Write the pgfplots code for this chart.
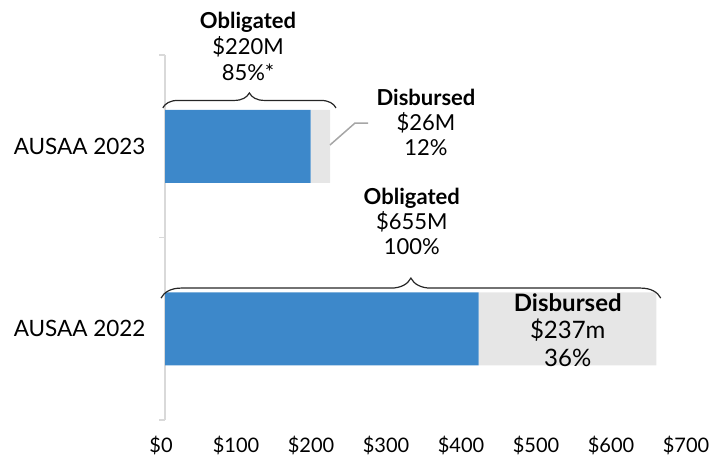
\documentclass[border=0pt]{standalone}
\usepackage{fontspec}
\setmainfont{Lato}
\usepackage{pgfplots}
\pgfplotsset{compat=1.18}
\usetikzlibrary{decorations.pathreplacing}
\definecolor{barblue}{HTML}{3D88CA}
\definecolor{bargrey}{HTML}{E6E6E6}
\definecolor{axgrey}{HTML}{D9D9D9}
\definecolor{leadgrey}{HTML}{A6A6A6}
\begin{document}
\begin{tikzpicture}
\useasboundingbox (0,0) rectangle (712pt,459pt);
\begin{axis}[
  at={(165pt,39pt)}, anchor=south west,
  scale only axis, width=525pt, height=365pt,
  xmin=0, xmax=700, ymin=-0.5, ymax=1.5,
  xbar stacked, bar width=73pt,
  axis x line=bottom, axis y line=left,
  axis line style={-},
  x axis line style={draw=none},
  y axis line style={draw=axgrey, line width=1.5pt},
  xtick={0,100,...,700},
  xticklabel={\$\pgfmathprintnumber{\tick}},
  xtick style={draw=none},
  ytick={0,1}, yticklabels={AUSAA 2022, AUSAA 2023},
  ytick style={draw=none},
  minor ytick={-0.5,0.5,1.5},
  minor y tick style={draw=axgrey, line width=1.5pt},
  minor tick length=6pt,
  tick align=outside,
  /pgf/number format/assume math mode=true,
  xticklabel style={font=\fontsize{20}{24}\selectfont, inner sep=0pt, yshift=-12pt, xshift=-4pt},
  yticklabel style={font=\fontsize{22.5}{26}\selectfont, inner sep=0pt, xshift=-15pt},
  clip=false,
]
\addplot[fill=barblue, draw=none] coordinates {(418,0) (194,1)};
\addplot[fill=bargrey, draw=none] coordinates {(237,0) (26,1)};

\coordinate (b1a) at (axis cs:-3,1.21);
\coordinate (b1b) at (axis cs:228,1.21);
\coordinate (b2a) at (axis cs:-5.3,0.168);
\coordinate (b2b) at (axis cs:661,0.168);
\coordinate (l1) at (axis cs:220,1.007);
\coordinate (l2) at (axis cs:253.3,1.127);
\coordinate (l3) at (axis cs:270.7,1.127);
\coordinate (t1) at (axis cs:110.7,1.549);
\coordinate (t2) at (axis cs:348,1.133);
\coordinate (t3) at (axis cs:329,0.590);
\coordinate (t4) at (axis cs:537,-0.007);
\end{axis}

\draw[decorate, decoration={brace, amplitude=15pt}, line width=1.2pt, black!85] (b1a) -- (b1b);
\draw[decorate, decoration={brace, amplitude=20pt}, line width=1.2pt, black!85] (b2a) -- (b2b);
\draw[leadgrey, line width=1.5pt] (l1) -- (l2) -- (l3);

\node[align=center, font=\fontsize{22}{26}\selectfont] at (t1)
  {\textbf{Obligated}\\\$220M\\85\%*};
\node[align=center, font=\fontsize{22}{25}\selectfont] at (t2)
  {\textbf{Disbursed}\\\$26M\\12\%};
\node[align=center, font=\fontsize{22}{25}\selectfont] at (t3)
  {\textbf{Obligated}\\\$655M\\100\%};
\node[align=center, font=\fontsize{24}{27.5}\selectfont] at (t4)
  {\textbf{Disbursed}\\\$237m\\36\%};
\end{tikzpicture}
\end{document}
